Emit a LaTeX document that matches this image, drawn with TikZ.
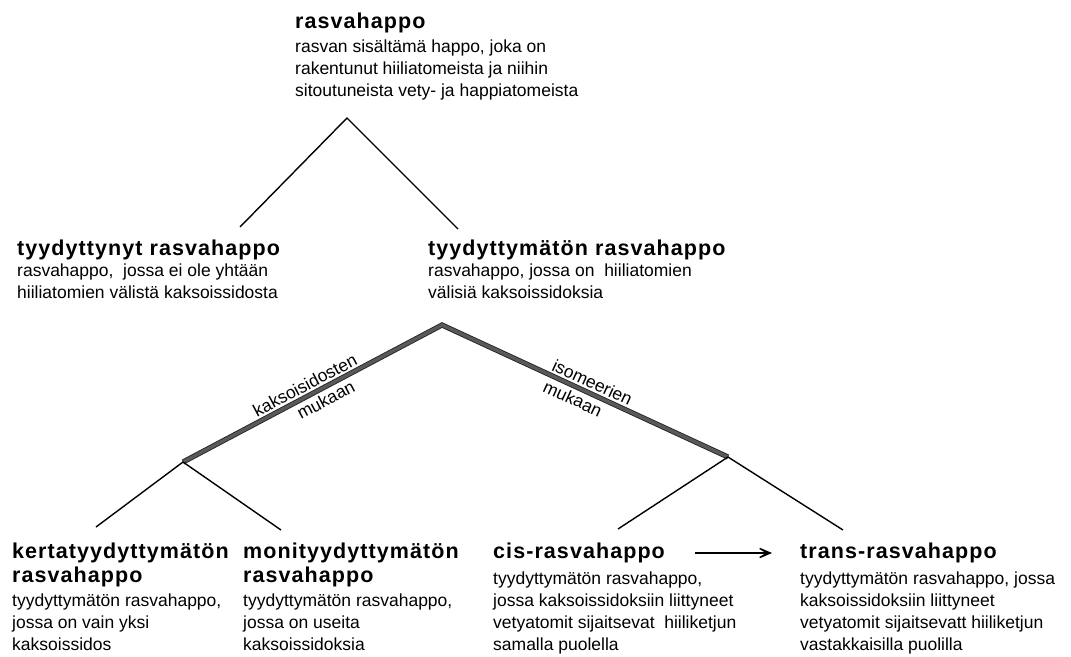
\documentclass[tikz,border=0pt]{standalone}
\usepackage{fontspec}
\setmainfont{Liberation Sans}
\newfontfamily\ttlfont[LetterSpace=5]{Liberation Sans}
\usetikzlibrary{arrows.meta}
\tikzset{ttl/.style={font=\ttlfont\bfseries\fontsize{21.5}{24}\selectfont, inner sep=0pt, anchor=base west, align=left},
         dsc/.style={font=\fontsize{17.5}{22}\selectfont, inner sep=0pt, anchor=base west, align=left},
         branch/.style={line width=1.4pt},
         mainline/.style={draw=black!85, line width=0.9pt, double=black!65, double distance=3.4pt},
         lbl/.style={font=\fontsize{17.5}{20}\selectfont, sloped, inner sep=0pt},
         conv/.style={line width=1.4pt, -{Stealth[length=22pt, width=19pt, inset=16pt]}}}

\begin{document}
\begin{tikzpicture}[x=1pt,y=-1pt]
\useasboundingbox (0,0) rectangle (1071,656);

\node[ttl] (rh) at (295,28) {rasvahappo};
\node[dsc] (rhd) at (295,96) {rasvan sisältämä happo, joka on\\rakentunut hiiliatomeista ja niihin\\sitoutuneista vety- ja happiatomeista};

\node[ttl] (sat) at (17,255) {tyydyttynyt rasvahappo};
\node[dsc] (satd) at (17,298) {rasvahappo,\ \ jossa ei ole yhtään\\hiiliatomien välistä kaksoissidosta};
\node[ttl] (uns) at (428,255) {tyydyttymätön rasvahappo};
\node[dsc] (unsd) at (428,298) {rasvahappo, jossa on\ \ hiiliatomien\\välisiä kaksoissidoksia};

\node[ttl] (mono) at (12,582) {kertatyydyttymätön\\rasvahappo};
\node[dsc] (monod) at (12,650) {tyydyttymätön rasvahappo,\\jossa on vain yksi\\kaksoissidos};
\node[ttl] (poly) at (243,582) {monityydyttymätön\\rasvahappo};
\node[dsc] (polyd) at (243,650) {tyydyttymätön rasvahappo,\\jossa on useita\\kaksoissidoksia};
\node[ttl] (cis) at (493,558) {cis-rasvahappo};
\node[dsc] (cisd) at (493,650) {tyydyttymätön rasvahappo,\\jossa kaksoissidoksiin liittyneet\\vetyatomit sijaitsevat\ \ hiiliketjun\\samalla puolella};
\node[ttl] (trans) at (800,558) {trans-rasvahappo};
\node[dsc] (transd) at (800,650) {tyydyttymätön rasvahappo, jossa\\kaksoissidoksiin liittyneet\\vetyatomit sijaitsevatt hiiliketjun\\vastakkaisilla puolilla};

\coordinate (t0) at (347,118);
\coordinate (t1) at (240,227);
\coordinate (t2) at (458,229);
\coordinate (k0) at (442,325);
\coordinate (k1) at (183,462);
\coordinate (k2) at (728,457);
\coordinate (m1) at (96,527);
\coordinate (m2) at (281,530);
\coordinate (c1) at (618,529);
\coordinate (c2) at (843,530);
\coordinate (a1) at (695,553);
\coordinate (a2) at (772,553);

\draw[branch] (t1) -- (t0) -- (t2);
\draw[mainline] (k1) -- node[lbl, above=4pt, pos=.49] {kaksoisidosten} node[lbl, below=5pt, pos=.53] {mukaan} (k0)
  -- node[lbl, above=4pt, pos=.51] {isomeerien} node[lbl, below=5pt, pos=.475] {mukaan} (k2);
\draw[branch] (m1) -- (k1) -- (m2);
\draw[branch] (c1) -- (k2) -- (c2);
\draw[conv] (a1) -- (a2);
\end{tikzpicture}
\end{document}
